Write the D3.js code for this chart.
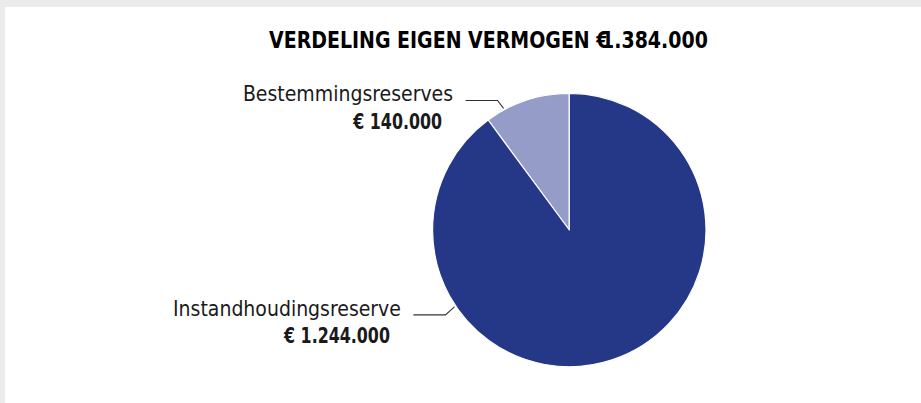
<!DOCTYPE html>
<html>
<head>
<meta charset="utf-8">
<script src="https://cdn.jsdelivr.net/npm/d3@7"></script>
<style>
  html, body { margin: 0; padding: 0; background: #ebebeb; }
  svg { display: block; }
</style>
</head>
<body>
<div id="graphic"></div>
<script>
'use strict';

const categories = [`Bestemmingsreserves`, `Instandhoudingsreserve`];
const values = [140000, 1244000];
const sliceColors = [`#949cc7`, `#253888`];
const titleText = `VERDELING EIGEN VERMOGEN`;
// where along each slice the leader line touches the pie (0 = start, 1 = end)
const leaderAt = [0.22, 0.73];

(function (d3) {
  const width = 921;
  const height = 403;
  const cx = 569.3;
  const cy = 230;
  const radius = 136.7;
  const fontFamily = `'Liberation Sans Narrow', 'Arial Narrow', 'DejaVu Sans Condensed', sans-serif`;

  const dots = (v) => d3.format(`,`)(v).replace(/,/g, `.`);
  const fmt = (v) => `€ ` + dots(v);
  const total = d3.sum(values);

  // squeeze a text horizontally so it looks like the condensed face of the original
  const condense = (sel, k) => {
    const w = sel.node().getComputedTextLength();
    sel.attr(`textLength`, w * k).attr(`lengthAdjust`, `spacingAndGlyphs`);
  };

  const data = categories.map((c, i) => ({ label: c, value: values[i], color: sliceColors[i], at: leaderAt[i] }));

  const svg = d3.select(`div#graphic`).append(`svg`).attr(`width`, width).attr(`height`, height);

  // panel
  svg.append(`rect`).attr(`x`, 0).attr(`y`, 0).attr(`width`, width).attr(`height`, height).attr(`fill`, `#ebebeb`);
  svg.append(`rect`).attr(`x`, 5).attr(`y`, 7).attr(`width`, width - 5).attr(`height`, height - 7).attr(`fill`, `#ffffff`);

  // title (the euro sign sits on top of the first digit in the original)
  const title = svg
    .append(`text`)
    .attr(`x`, 269)
    .attr(`y`, 48.3)
    .attr(`font-family`, fontFamily)
    .attr(`font-weight`, `bold`)
    .attr(`font-size`, 22.5)
    .attr(`fill`, `#000`);
  title.append(`tspan`).text(`${titleText} €`);
  title.append(`tspan`).attr(`dx`, -9).text(dots(total));
  const tw = title.node().getBBox().width;
  title.attr(`transform`, `translate(269,0) scale(${439 / tw},1) translate(-269,0)`);

  const span = (2 * Math.PI * values[0]) / total;
  const pie = d3
    .pie()
    .sort(null)
    .value((d) => d.value)
    .startAngle(-span)
    .endAngle(2 * Math.PI - span);

  const arcs = pie(data);
  const arc = d3.arc().innerRadius(0).outerRadius(radius);

  const g = svg.append(`g`).attr(`transform`, `translate(${cx},${cy})`);

  g.selectAll(`path`)
    .data(arcs)
    .join(`path`)
    .attr(`fill`, (d) => d.data.color)
    .attr(`stroke`, `#ffffff`)
    .attr(`stroke-width`, 1.2)
    .attr(`stroke-linejoin`, `round`)
    .attr(`d`, arc);

  // leader lines + labels
  const labels = svg.append(`g`).attr(`font-family`, fontFamily).attr(`fill`, `#1a1a1a`);

  arcs.forEach((d) => {
    const a = d.startAngle + d.data.at * (d.endAngle - d.startAngle);
    const r = radius + 1.5;
    const ex = cx + r * Math.sin(a);
    const ey = cy - r * Math.cos(a);
    const up = ey < cy;
    const kx = ex - (up ? 6 : 9);
    const ky = ey + (up ? -8 : 8);
    const sx = kx - 32;

    labels
      .append(`path`)
      .attr(`d`, `M${sx},${ky}L${kx},${ky}L${ex},${ey}`)
      .attr(`fill`, `none`)
      .attr(`stroke`, `#333`)
      .attr(`stroke-width`, 1.1);

    labels
      .append(`text`)
      .attr(`x`, sx - 12.5)
      .attr(`y`, ky + 1)
      .attr(`text-anchor`, `end`)
      .attr(`font-size`, 21)
      .text(d.data.label);

    const v = labels
      .append(`text`)
      .attr(`x`, sx - 23.5)
      .attr(`y`, ky + 28.5)
      .attr(`text-anchor`, `end`)
      .attr(`font-size`, 21.5)
      .attr(`font-weight`, `bold`)
      .text(fmt(d.data.value));
    condense(v, 0.82);
  });
})(d3);
</script>
</body>
</html>
